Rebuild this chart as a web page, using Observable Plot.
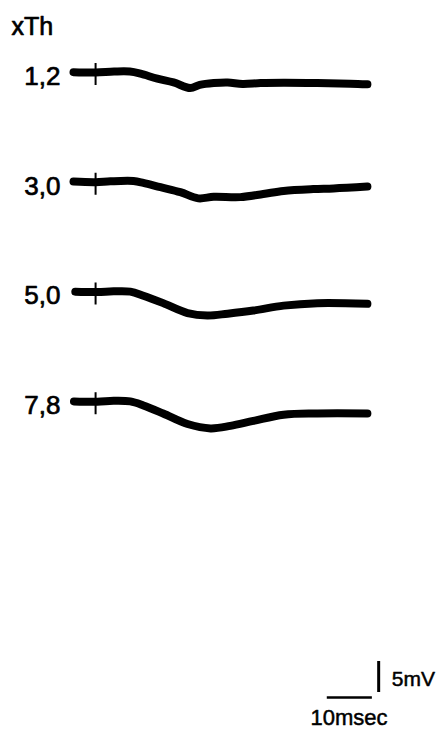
<!DOCTYPE html>
<html>
<head>
<meta charset="utf-8">
<script src="https://cdn.jsdelivr.net/npm/d3@7"></script>
<script src="https://cdn.jsdelivr.net/npm/@observablehq/plot@0.6"></script>
<style>
  html, body { margin: 0; padding: 0; background: #fff; }
  svg { display: block; }
</style>
</head>
<body>
<div id="chart"></div>
<script>
// ---- data (time in ms from trace start, deflection in mV) ----
const headerLabel = "xTh";
const gainLabels = ["1,2", "3,0", "5,0", "7,8"];
const stimulusMs = 4.9;

const t1 = [0, 4.9, 9, 12.5, 14.9, 18.6, 22.2, 25.9, 28, 31.1, 34.2, 37.5, 41.5, 46.6, 54.1, 61.4, 65.2];
const v1 = [0.05, 0, 0.15, 0.15, -0.2, -1.0, -1.6, -2.5, -2.0, -1.7, -1.6, -1.85, -1.7, -1.65, -1.7, -1.8, -1.9];

const t2 = [0, 4.9, 8.2, 13.3, 15.5, 19.3, 23.7, 27.7, 31.1, 37.0, 42.1, 46.6, 53.2, 57.7, 65.2];
const v2 = [0.1, 0, 0.15, 0.2, -0.1, -0.8, -1.6, -2.6, -2.35, -2.4, -1.9, -1.4, -1.1, -1.0, -0.7];

const t3 = [0.4, 5.3, 8.9, 12.6, 15.5, 19.9, 25.3, 29.7, 34.2, 39.9, 46.6, 54.1, 65.2];
const v3 = [0.05, 0, 0.1, 0.05, -0.6, -1.8, -3.4, -3.8, -3.5, -3.0, -2.2, -1.8, -1.9];

const t4 = [0.1, 5.3, 8.9, 12.6, 15.5, 19.9, 25.3, 30.4, 34.8, 39.9, 46.6, 54.1, 65.2];
const v4 = [0.05, 0, 0.15, 0.05, -0.6, -1.9, -3.6, -4.3, -3.9, -3.1, -2.1, -1.9, -1.9];

const scaleBarMs = 10;
const scaleBarMv = 5;
const scaleBarTimeLabel = "10msec";
const scaleBarVoltLabel = "5mV";

// ---- layout (in data units) ----
const traceSpacing = 17.7;          // mV between stacked traces
const barT0 = 56.3, barV = -100.8;  // scale bar anchor
const vBarT = 67.7, vBarV0 = -100;

const times = [t1, t2, t3, t4];
const values = [v1, v2, v3, v4];

const rows = [];
times.forEach((ts, i) => ts.forEach((t, j) => rows.push({trace: i, t, v: values[i][j] - i * traceSpacing})));

const labels = gainLabels.map((g, i) => ({label: g, t: 0, v: -i * traceSpacing}));
const ticks = gainLabels.map((g, i) => ({t: stimulusMs, v1: -i * traceSpacing + 1.45, v2: -i * traceSpacing - 2.1}));

const font = "'Liberation Sans', Arial, Helvetica, sans-serif";
const heavy = {stroke: "#000", strokeWidth: 0.7, fill: "#000"};

const chart = Plot.plot({
  width: 447,
  height: 731,
  margin: 0,
  style: {fontFamily: font, background: "#fff", color: "#000"},
  x: {domain: [0, 65], range: [73, 366], axis: null},
  y: {domain: [0, -100], range: [72, 692], axis: null},
  marks: [
    Plot.line(rows, {x: "t", y: "v", z: "trace", stroke: "#000", strokeWidth: 8, curve: "catmull-rom", strokeLinecap: "round", strokeLinejoin: "round"}),
    Plot.ruleX(ticks, {x: "t", y1: "v1", y2: "v2", stroke: "#000", strokeWidth: 2}),
    Plot.text(labels, {x: "t", y: "v", text: "label", textAnchor: "end", dx: -13, dy: 4, fontSize: 26, ...heavy, style: "letter-spacing:-2px"}),
    Plot.text([headerLabel], {frameAnchor: "top-left", dx: 11, dy: 17, lineAnchor: "top", textAnchor: "start", fontSize: 25, ...heavy, style: "letter-spacing:-0.5px"}),
    // scale bars
    Plot.ruleY([barV], {x1: barT0, x2: barT0 + scaleBarMs, stroke: "#000", strokeWidth: 2.5}),
    Plot.ruleX([vBarT], {y1: vBarV0 + scaleBarMv, y2: vBarV0, stroke: "#000", strokeWidth: 3}),
    Plot.text([scaleBarVoltLabel], {x: 70.6, y: -97.9, text: d => d, textAnchor: "start", fontSize: 21, ...heavy, strokeWidth: 0.5, style: "letter-spacing:-1.5px"}),
    Plot.text([scaleBarTimeLabel], {x: 61.1, y: -104.1, text: d => d, textAnchor: "middle", fontSize: 22, ...heavy, strokeWidth: 0.5, style: "letter-spacing:-1px"})
  ]
});
document.getElementById("chart").append(chart);
</script>
</body>
</html>
